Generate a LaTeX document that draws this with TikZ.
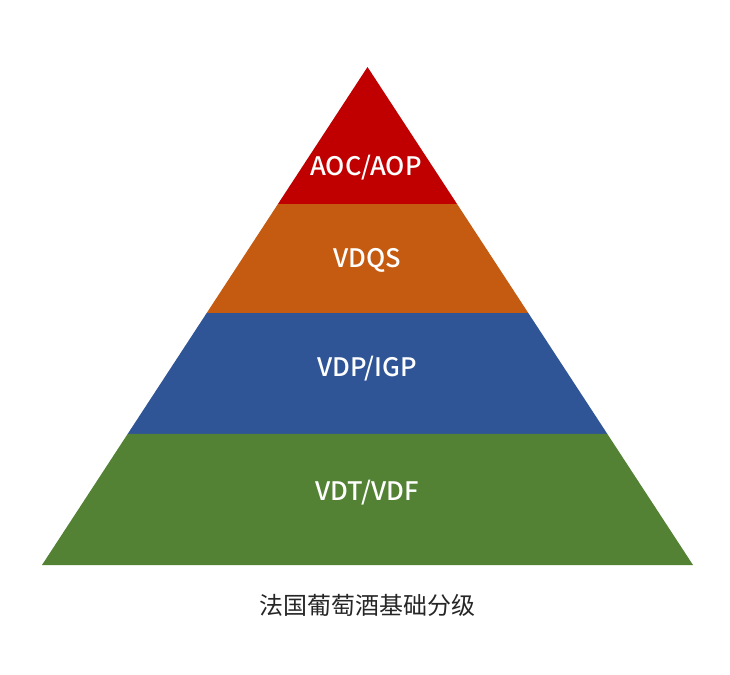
\documentclass[tikz,border=0pt]{standalone}
\usepackage{fontspec}
\newfontfamily\cjk{Noto Sans CJK SC}
\newfontfamily\cjkmed{Noto Sans CJK SC Medium}
\usetikzlibrary{calc}
\definecolor{aocred}{HTML}{C00000}
\definecolor{vdqsorange}{HTML}{C55A11}
\definecolor{igpblue}{HTML}{2F5597}
\definecolor{vdfgreen}{HTML}{548235}
\tikzset{
  layerlabel/.style={text=white, inner sep=0pt,
                     font=\cjkmed\fontsize{25.5}{25.5}\selectfont},
  captionlabel/.style={text=black!85, inner sep=0pt,
                       font=\cjk\fontsize{24}{24}\selectfont},
}

\begin{document}
\begin{tikzpicture}[x=1pt, y=-1pt]
    \useasboundingbox (0,0) rectangle (730,674);

    % Outline of the pyramid
    \coordinate (apex) at (367.5,67);
    \coordinate (baseL) at (42,565);
    \coordinate (baseR) at (693,565);

    % Layer boundaries along the two slopes
    \foreach \t/\n in {0.2751/a, 0.4940/b, 0.7369/c} {
      \coordinate (\n L) at ($(apex)!\t!(baseL)$);
      \coordinate (\n R) at ($(apex)!\t!(baseR)$);
    }

    % Layers, top to bottom
    \fill[aocred] (apex) -- (aR) -- (aL) -- cycle;
    \fill[vdqsorange] (aL) -- (aR) -- (bR) -- (bL) -- cycle;
    \fill[igpblue] (bL) -- (bR) -- (cR) -- (cL) -- cycle;
    \fill[vdfgreen] (cL) -- (cR) -- (baseR) -- (baseL) -- cycle;

    % Labels
    \node[layerlabel] (aoc) at (366,168) {AOC/AOP};
    \node[layerlabel] (vdqs) at (367,260) {VDQS};
    \node[layerlabel] (vdp) at (367,369) {VDP/IGP};
    \node[layerlabel] (vdt) at (367,493) {VDT/VDF};

    \node[captionlabel] (title) at (367,605) {法国葡萄酒基础分级};
\end{tikzpicture}
\end{document}
